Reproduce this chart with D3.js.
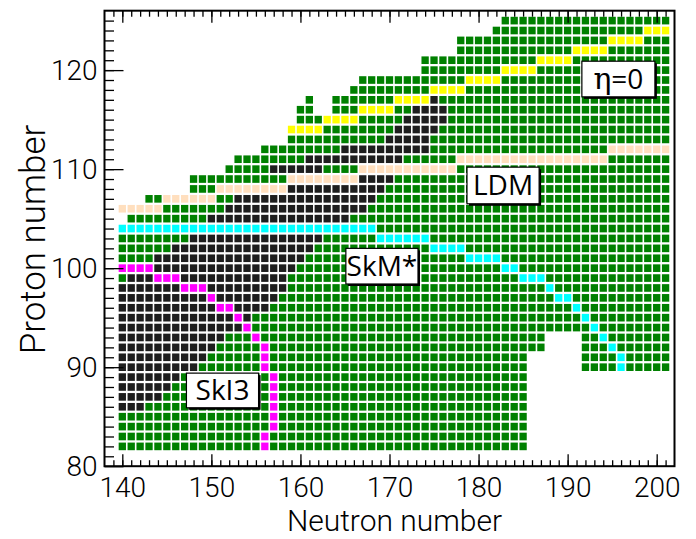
<!DOCTYPE html>
<html>
<head>
<meta charset="utf-8">
<script src="https://cdn.jsdelivr.net/npm/d3@7"></script>
<style>
  body { margin: 0; background: #fff; }
  text { font-family: Roboto, "Open Sans", sans-serif; font-weight: 300; fill: #000; }
  text.box-label { font-family: "Open Sans", sans-serif; font-weight: 400; }
</style>
</head>
<body>
<svg id="chart" width="696" height="539"></svg>
<script>
// Nuclei in the calculation: runs of [Z, first N, last N]
const coverage = [
  [125, 183, 201], [124, 182, 201], [123, 178, 201], [122, 178, 201],
  [121, 174, 201], [120, 174, 201], [119, 167, 201], [118, 166, 201],
  [117, 161, 161], [117, 164, 201], [116, 160, 161], [116, 164, 201],
  [115, 160, 201], [114, 159, 201], [113, 159, 201], [112, 156, 201],
  [111, 153, 201], [110, 152, 201], [109, 148, 201], [108, 148, 201],
  [107, 143, 201], [106, 140, 201], [105, 141, 201], [104, 140, 201],
  [103, 140, 201], [102, 140, 201], [101, 140, 201], [100, 140, 201],
  [99, 140, 201], [98, 140, 201], [97, 140, 201], [96, 140, 201],
  [95, 140, 201], [94, 140, 201],
  [93, 140, 187], [93, 192, 201], [92, 140, 187], [92, 192, 201],
  [91, 140, 185], [91, 192, 201], [90, 140, 185], [90, 192, 201],
  [89, 140, 185], [88, 140, 185], [87, 140, 185], [86, 140, 185],
  [85, 140, 185], [84, 140, 185], [83, 140, 185], [82, 140, 185]
];

// Dark region: runs of [Z, first N, last N]
const darkRuns = [
  [117, 175, 175], [116, 173, 176], [115, 172, 176], [114, 171, 175],
  [113, 170, 174], [112, 165, 174], [111, 161, 171], [110, 157, 162],
  [109, 167, 170], [108, 159, 169], [107, 153, 168], [106, 152, 167],
  [105, 150, 165], [103, 148, 162], [102, 146, 161], [101, 144, 160],
  [100, 144, 159], [99, 141, 158], [98, 140, 158], [97, 140, 157],
  [96, 140, 156], [95, 140, 154], [94, 140, 153], [93, 140, 151],
  [92, 140, 150], [91, 140, 149], [90, 140, 148], [89, 140, 146],
  [88, 140, 145], [87, 140, 144], [86, 140, 142]
];

// Boundary lines, runs of [Z, first N, last N]
const etaZeroLine = [
  [114, 159, 162], [115, 163, 166], [116, 167, 170], [117, 171, 174],
  [118, 175, 178], [119, 179, 182], [120, 183, 186], [121, 187, 190],
  [122, 191, 194], [123, 195, 198], [124, 199, 201]
];
const ldmLine = [
  [106, 140, 144], [107, 145, 150], [108, 151, 158], [109, 159, 166],
  [110, 167, 177], [111, 178, 194], [112, 195, 201]
];
const skmLine = [
  [104, 140, 168], [103, 169, 174], [102, 175, 178], [101, 179, 182],
  [100, 183, 184], [99, 185, 187], [98, 188, 188], [97, 189, 190],
  [96, 191, 191], [95, 192, 192], [94, 193, 193], [93, 194, 194],
  [92, 195, 195], [91, 196, 196], [90, 196, 196]
];
const ski3Line = [
  [100, 140, 143], [99, 144, 146], [98, 147, 149], [97, 150, 150],
  [96, 151, 152], [95, 153, 153], [94, 154, 154], [93, 155, 155],
  [92, 156, 156], [91, 156, 156], [90, 156, 156], [89, 157, 157],
  [88, 157, 157], [87, 157, 157], [86, 157, 157], [85, 157, 157],
  [84, 157, 157], [83, 156, 156], [82, 156, 156]
];

const xMajorTicks = [140, 150, 160, 170, 180, 190, 200];
const yMajorTicks = [80, 90, 100, 110, 120];

// Label boxes: text and the (N, Z) of the box corners
const labels = [
  { text: "SkI3",  n0: 147.2, n1: 155.3, z0: 85.9, z1: 89.4 },
  { text: "SkM*",  n0: 165.1, n1: 173.2, z0: 98.4, z1: 102.0 },
  { text: "LDM",   n0: 178.7, n1: 186.8, z0: 106.5, z1: 110.2 },
  { text: "η=0",   n0: 191.6, n1: 199.8, z0: 117.3, z1: 120.9 }
];

const colors = {
  base: "#008000", dark: "#1e1e1e", eta: "#ffff00",
  ldm: "#ffdfbe", skm: "#00ffff", ski3: "#ff00ff"
};

(function draw() {
  const svg = d3.select("#chart");
  const left = 104.5, right = 674.5, plotTop = 10.7, bottom = 466.2;

  const x = d3.scaleLinear().domain([138, 202]).range([left, right]);
  const y = d3.scaleLinear().domain([80, 126]).range([bottom, plotTop]);

  // colour of each nucleus, later layers override earlier ones
  const cellColor = new Map();
  function paint(runs, color) {
    runs.forEach(([z, n0, n1]) => {
      d3.range(n0, n1 + 1).forEach(n => cellColor.set(z + ":" + n, color));
    });
  }
  paint(coverage, colors.base);
  paint(darkRuns, colors.dark);
  paint(etaZeroLine, colors.eta);
  paint(ldmLine, colors.ldm);
  paint(skmLine, colors.skm);
  paint(ski3Line, colors.ski3);

  const cells = [];
  coverage.forEach(([z, n0, n1]) => {
    d3.range(n0, n1 + 1).forEach(n => cells.push({ z, n, color: cellColor.get(z + ":" + n) }));
  });

  const pitchX = x(1) - x(0);
  const pitchY = y(0) - y(1);
  const cw = pitchX * 0.82, ch = pitchY * 0.77;

  svg.append("g")
    .selectAll("rect")
    .data(cells)
    .join("rect")
    .attr("x", d => x(d.n) - cw / 2)
    .attr("y", d => y(d.z) - ch / 2)
    .attr("width", cw)
    .attr("height", ch)
    .attr("fill", d => d.color);

  // Axes: minor and major ticks pointing into the frame
  function styleAxis(g) {
    g.select(".domain").remove();
    g.selectAll("line").attr("stroke", "#000").attr("stroke-width", 1.3);
  }
  function styleLabels(sel) {
    sel.attr("font-size", 28).attr("font-family", "Roboto")
      .attr("font-weight", 300).attr("fill", "#000");
  }
  const xMinor = d3.range(139, 202);
  const yMinor = d3.range(81, 126);

  svg.append("g").attr("transform", `translate(0,${bottom})`)
    .call(d3.axisBottom(x).tickValues(xMinor).tickSize(-6).tickFormat(""))
    .call(styleAxis);
  svg.append("g").attr("transform", `translate(0,${bottom})`)
    .call(d3.axisBottom(x).tickValues(xMajorTicks).tickSize(-12).tickPadding(11))
    .call(styleAxis)
    .selectAll("text").call(styleLabels);

  svg.append("g").attr("transform", `translate(0,${plotTop})`)
    .call(d3.axisTop(x).tickValues(xMinor).tickSize(-6).tickFormat(""))
    .call(styleAxis);
  svg.append("g").attr("transform", `translate(0,${plotTop})`)
    .call(d3.axisTop(x).tickValues(xMajorTicks).tickSize(-12).tickFormat(""))
    .call(styleAxis);

  svg.append("g").attr("transform", `translate(${left},0)`)
    .call(d3.axisLeft(y).tickValues(yMinor).tickSize(-9.5).tickFormat(""))
    .call(styleAxis);
  svg.append("g").attr("transform", `translate(${left},0)`)
    .call(d3.axisLeft(y).tickValues(yMajorTicks).tickSize(-19).tickPadding(7))
    .call(styleAxis)
    .selectAll("text").call(styleLabels);

  // Frame
  svg.append("rect")
    .attr("x", left).attr("y", plotTop)
    .attr("width", right - left).attr("height", bottom - plotTop)
    .attr("fill", "none").attr("stroke", "#000").attr("stroke-width", 2);

  // Axis titles
  svg.append("text")
    .attr("x", (left + right) / 2 + 5).attr("y", 531)
    .attr("text-anchor", "middle").attr("font-size", 30)
    .text("Neutron number");
  svg.append("text")
    .attr("transform", `translate(45,${(plotTop + bottom) / 2 + 1}) rotate(-90)`)
    .attr("text-anchor", "middle").attr("font-size", 35)
    .text("Proton number");

  // Label boxes with a drop shadow on the lower right
  const lab = svg.append("g").selectAll("g").data(labels).join("g");
  lab.append("rect")
    .attr("x", d => x(d.n0) + 2).attr("y", d => y(d.z1) + 2)
    .attr("width", d => x(d.n1) - x(d.n0)).attr("height", d => y(d.z0) - y(d.z1))
    .attr("fill", "#000");
  lab.append("rect")
    .attr("x", d => x(d.n0)).attr("y", d => y(d.z1))
    .attr("width", d => x(d.n1) - x(d.n0)).attr("height", d => y(d.z0) - y(d.z1))
    .attr("fill", "#fff").attr("stroke", "#000").attr("stroke-width", 1.2);
  lab.append("text")
    .attr("class", "box-label")
    .attr("x", d => (x(d.n0) + x(d.n1)) / 2)
    .attr("y", d => (y(d.z0) + y(d.z1)) / 2 + 10)
    .attr("text-anchor", "middle").attr("font-size", 28)
    .each(function (d) {
      const t = d3.select(this);
      if (d.text.startsWith("η")) {
        t.append("tspan").attr("font-family", "DejaVu Serif").attr("font-size", 30).text("η");
        t.append("tspan").text(d.text.slice(1));
      } else {
        t.text(d.text);
      }
    });
})();
</script>
</body>
</html>
